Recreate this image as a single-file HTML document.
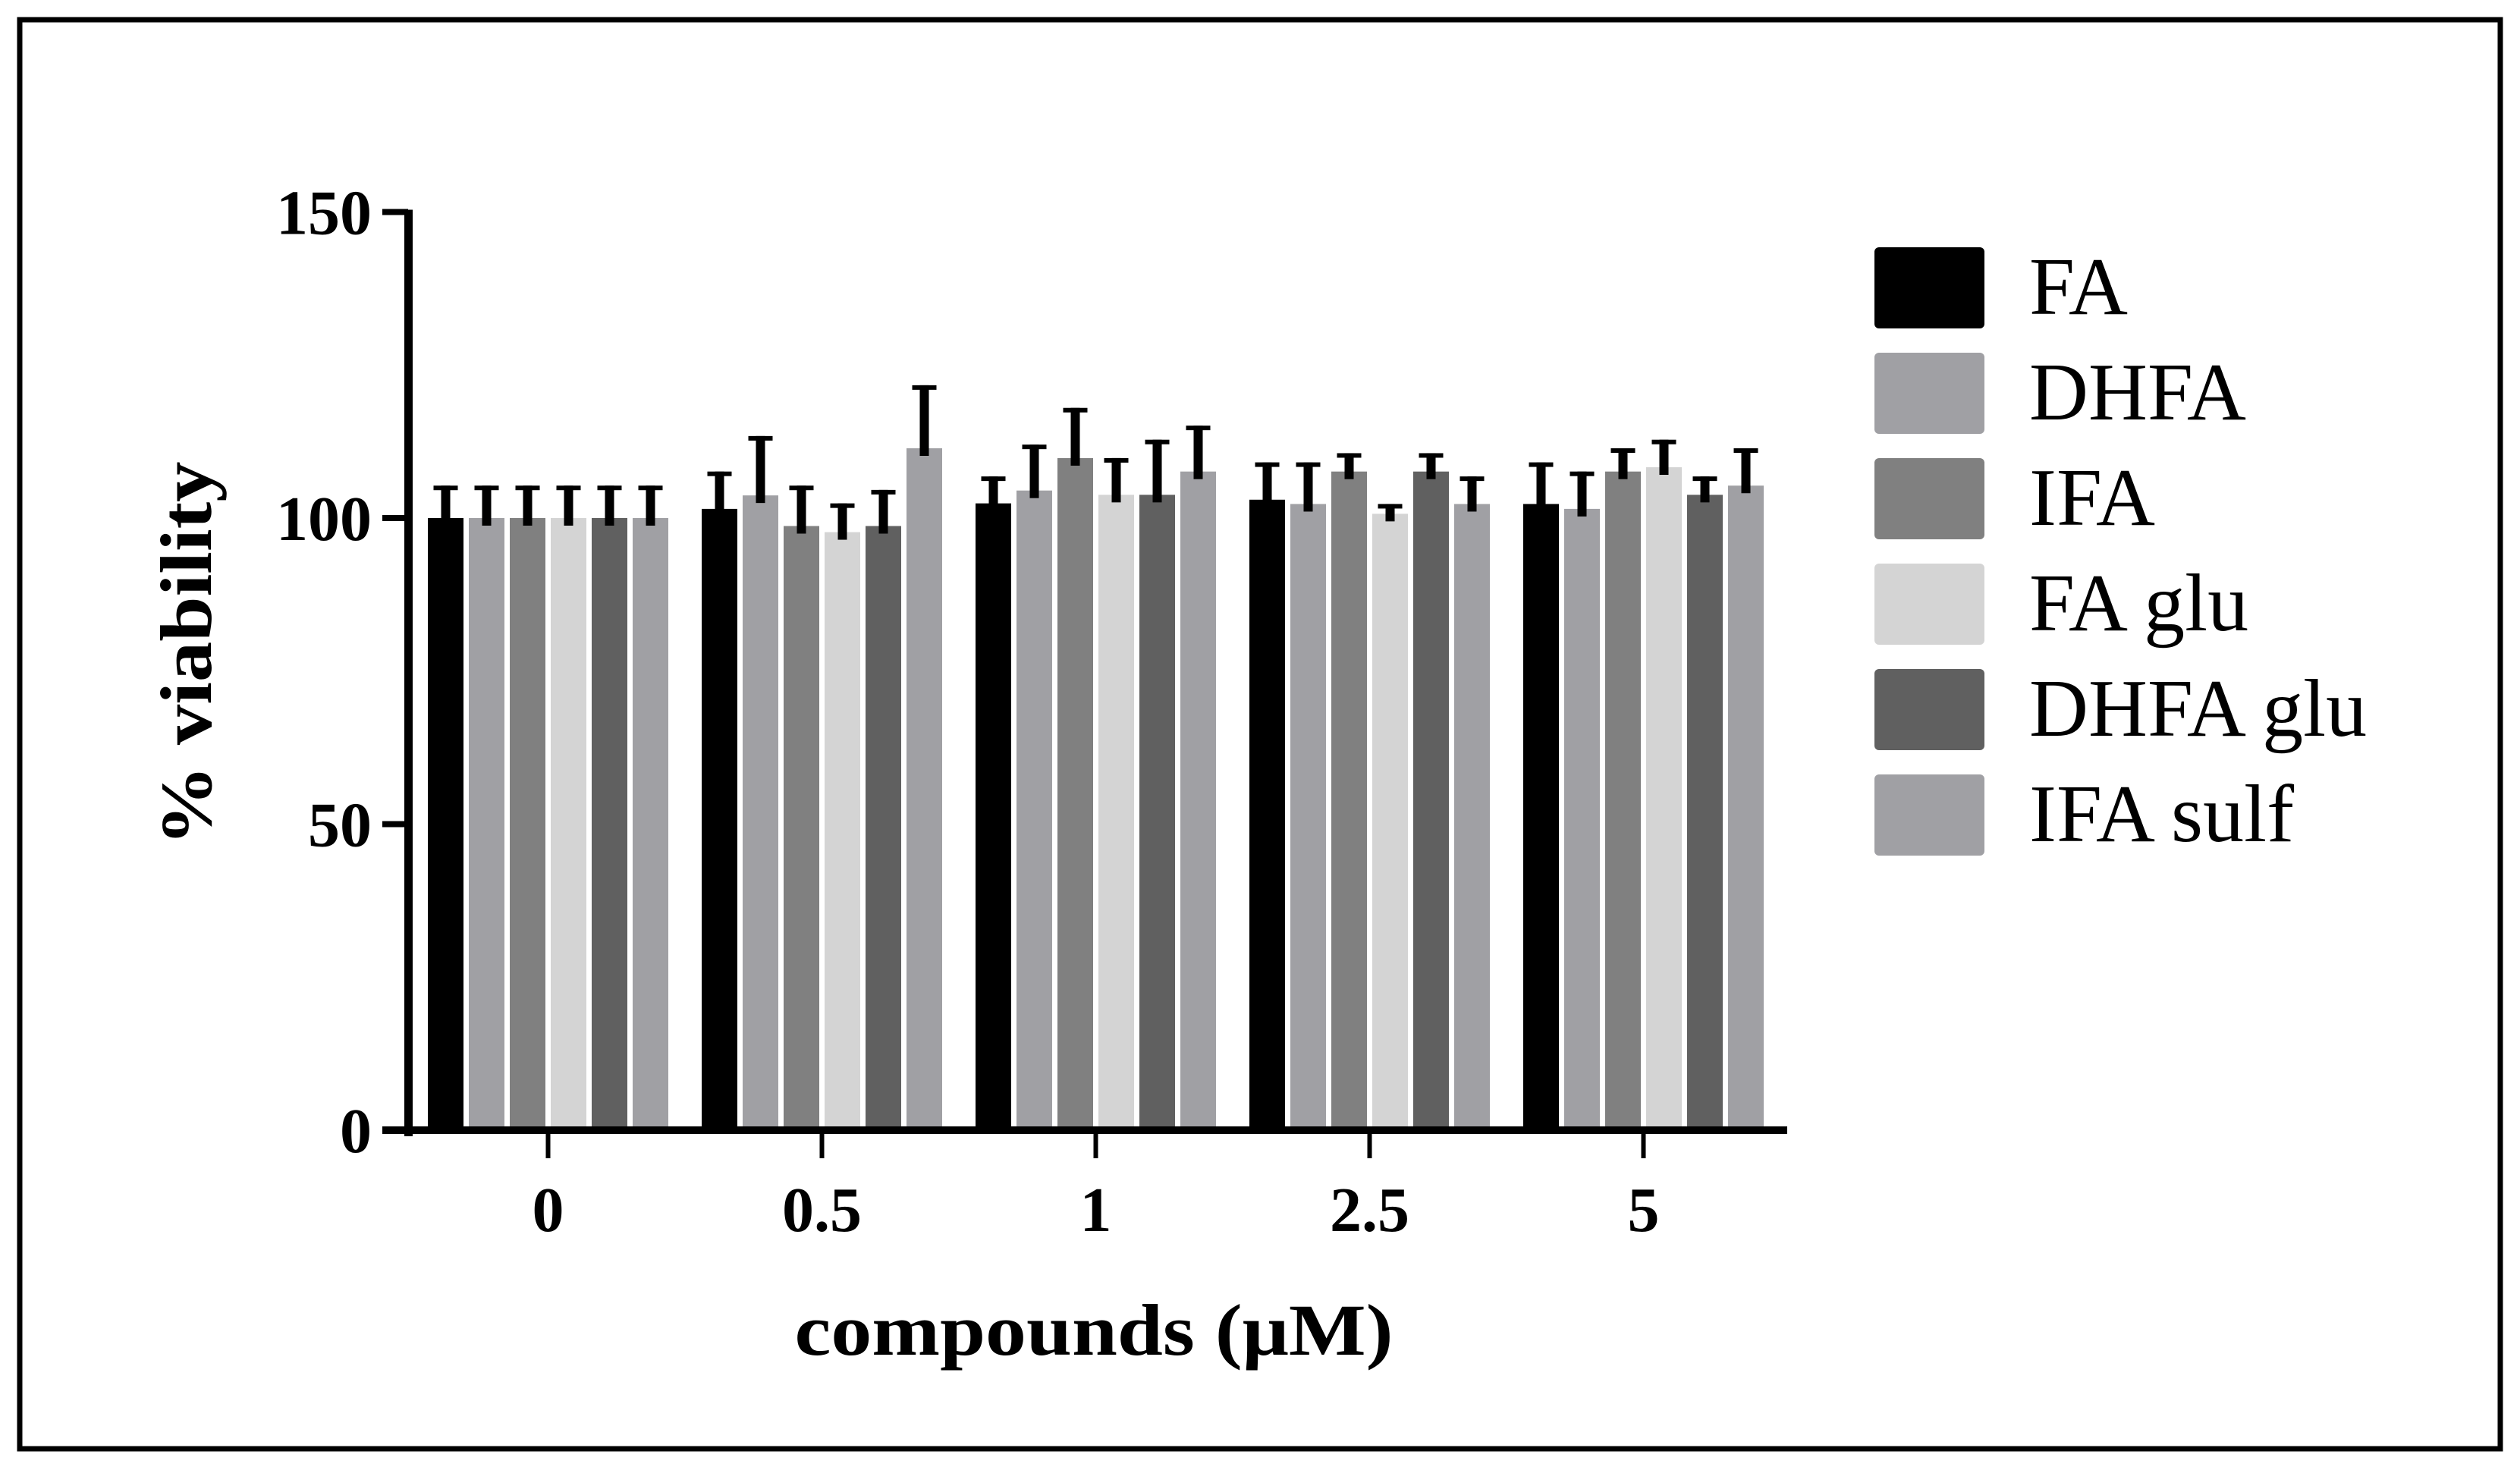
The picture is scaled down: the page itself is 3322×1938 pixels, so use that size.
<!DOCTYPE html>
<html><head><meta charset="utf-8"><style>
html,body{margin:0;padding:0;background:#fff;}
svg{display:block;}
</style></head><body>
<svg id="chart" width="3322" height="1938" viewBox="0 0 3322 1938" xmlns="http://www.w3.org/2000/svg">
<rect x="26" y="26" width="3270" height="1884" fill="none" stroke="#000" stroke-width="7"/>
<g id="bars"></g>
<g id="axes"></g>
<g id="legend"></g>
<text x="1442" y="1786" text-anchor="middle" font-family="Liberation Serif, serif" font-weight="bold" font-size="96" textLength="789" lengthAdjust="spacingAndGlyphs">compounds (μM)</text>
<text transform="translate(278,862) rotate(-90)" text-anchor="middle" font-family="Liberation Serif, serif" font-weight="bold" font-size="96" textLength="507" lengthAdjust="spacingAndGlyphs">% viability</text>
</svg>
<script>
const categories = ["0","0.5","1","2.5","5"];
const seriesNames = ["FA","DHFA","IFA","FA glu","DHFA glu","IFA sulf"];
const seriesColors = ["#000000","#a0a0a4","#808080","#d4d4d4","#606060","#a0a0a4"];
const valFA      = [100, 101.5, 102.4, 103.0, 102.3];
const valDHFA    = [100, 103.7, 104.5, 102.3, 101.5];
const valIFA     = [100, 98.7, 109.8, 107.6, 107.6];
const valFAglu   = [100, 97.7, 103.8, 100.7, 108.3];
const valDHFAglu = [100, 98.7, 103.8, 107.6, 103.8];
const valIFAsulf = [100, 111.4, 107.6, 102.3, 105.3];
const errFA      = [105.3, 107.6, 106.8, 109.1, 109.1];
const errDHFA    = [105.3, 113.4, 112.0, 109.1, 107.6];
const errIFA     = [105.3, 105.3, 118.0, 110.6, 111.4];
const errFAglu   = [105.3, 102.4, 109.8, 102.3, 112.8];
const errDHFAglu = [105.3, 104.6, 112.8, 110.6, 106.8];
const errIFAsulf = [105.3, 121.7, 115.1, 106.8, 111.4];
const yTicks = [0, 50, 100, 150];

const values = [valFA, valDHFA, valIFA, valFAglu, valDHFAglu, valIFAsulf];
const errTops = [errFA, errDHFA, errIFA, errFAglu, errDHFAglu, errIFAsulf];
const NS = "http://www.w3.org/2000/svg";
const y0 = 1490, pxPerUnit = 8.07;
function yScale(v){ return y0 - v*pxPerUnit; }
const groupStart = 564, groupStep = 361, barStep = 54, barW = 47;
function xBar(ci, si){ return groupStart + ci*groupStep + si*barStep; }
function xCenter(ci){ return groupStart + ci*groupStep + (5*barStep + barW)/2; }
function mk(tag, attrs, parent){ const e=document.createElementNS(NS,tag); for(const k in attrs) e.setAttribute(k, attrs[k]); parent.appendChild(e); return e; }

const gb = document.getElementById('bars');
categories.forEach((c, ci) => {
  seriesNames.forEach((s, si) => {
    const v = values[si][ci], x = xBar(ci, si), yt = yScale(v);
    const r = mk('rect', {x:x, y:yt, width:barW, height:y0-yt, fill:seriesColors[si]}, gb);
    
    
    const et = yScale(errTops[si][ci]), cx = x + barW/2;
    const st = mk('rect', {x:cx-6, y:et, width:12, height:(yt+10)-et, fill:'#000'}, gb);
    
    
    const cap = mk('rect', {x:cx-16, y:et, width:32, height:6, fill:'#000'}, gb);
    
    
  });
});

const ga = document.getElementById('axes');
const yl = mk('rect', {x:533, y:yScale(150)-3, width:11, height:y0-yScale(150)+11, fill:'#000'}, ga);


const xl = mk('rect', {x:504, y:1485, width:1852, height:10, fill:'#000'}, ga);


yTicks.forEach(t => {
  const y = yScale(t);
  const tk = mk('rect', {x:504, y:y-4, width:34, height:8, fill:'#000'}, ga);
  
  
  const tx = mk('text', {x:490, y:y+29, 'text-anchor':'end', 'font-family':'Liberation Serif, serif', 'font-weight':'bold', 'font-size':'84'}, ga);
  tx.textContent = String(t);
  
  
});
categories.forEach((c, ci) => {
  const x = xCenter(ci);
  const tk = mk('rect', {x:x-3, y:1493, width:6, height:34, fill:'#000'}, ga);
  
  
  const tx = mk('text', {x:x, y:1623, 'text-anchor':'middle', 'font-family':'Liberation Serif, serif', 'font-weight':'bold', 'font-size':'84'}, ga);
  tx.textContent = c;
  
  
});

const gl = document.getElementById('legend');
seriesNames.forEach((s, si) => {
  const y = 326 + si*139;
  const sw = mk('rect', {x:2471, y:y, width:145, height:107, rx:6, fill:seriesColors[si]}, gl);
  
  
  const tx = mk('text', {x:2675, y:y+88, 'font-family':'Liberation Serif, serif', 'font-size':'108'}, gl);
  tx.textContent = s;
  
  
});
</script>
</body></html>
